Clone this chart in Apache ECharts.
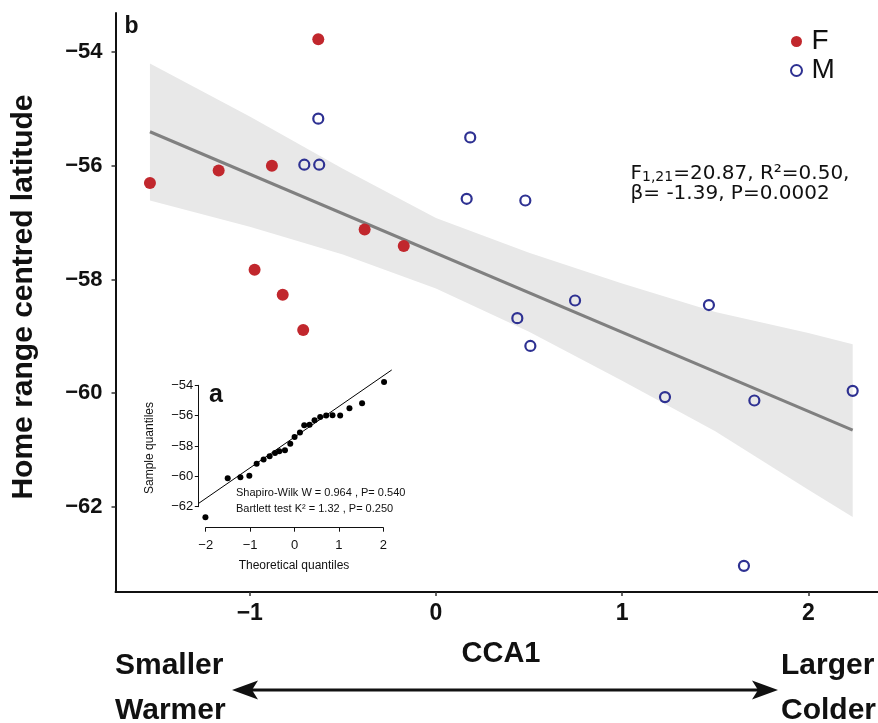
<!DOCTYPE html>
<html>
<head>
<meta charset="utf-8">
<script src="https://cdn.jsdelivr.net/npm/echarts@6/dist/echarts.min.js"></script>
<style>
html, body { margin: 0; padding: 0; background: #fff; }
#chart { width: 878px; height: 723px; }
</style>
</head>
<body>
<div id="chart"></div>
<script>
// main panel (b): home range centred latitude vs CCA1
var femaleX = [-1.536, -1.167, -0.974, -0.881, -0.823, -0.713, -0.632, -0.383, -0.173];
var femaleY = [-56.30, -56.08, -57.83, -56.00, -58.27, -58.89, -53.77, -57.12, -57.41];
var maleX = [-0.707, -0.627, -0.632, 0.165, 0.184, 0.437, 0.480, 0.507, 0.747, 1.230, 1.466, 1.654, 1.710, 2.238];
var maleY = [-55.98, -55.98, -55.17, -56.58, -55.50, -58.68, -56.61, -59.17, -58.37, -60.07, -58.45, -63.04, -60.13, -59.96];

// regression line and its confidence band
var fitX = [-1.536, 2.238];
var fitY = [-55.40, -60.65];
var bandX = [-1.536, -1.0, -0.5, 0.0, 0.5, 1.0, 1.5, 2.0, 2.238];
var bandUpper = [-54.20, -55.13, -56.05, -56.92, -57.53, -58.07, -58.57, -58.94, -59.14];
var bandLower = [-56.61, -57.07, -57.56, -58.16, -58.92, -59.78, -60.67, -61.70, -62.18];

var mainXTicks = [-1, 0, 1, 2];
var mainYTicks = [-62, -60, -58, -56, -54];

// inset (a): normal Q-Q plot
var qqTheo = [-2.016, -1.513, -1.227, -1.025, -0.860, -0.703, -0.567, -0.446, -0.349, -0.221, -0.101, -0.004,
  0.117, 0.214, 0.334, 0.447, 0.574, 0.709, 0.852, 1.025, 1.235, 1.520, 2.016];
var qqSample = [-62.70, -60.13, -60.06, -59.96, -59.17, -58.90, -58.68, -58.46, -58.35, -58.29, -57.85, -57.41,
  -57.12, -56.64, -56.60, -56.31, -56.09, -56.00, -55.98, -56.00, -55.52, -55.19, -53.78];
var qqLineX = [-2.167, 2.189];
var qqLineY = [-61.78, -52.99];

var FONT = '"Liberation Sans", Arial, sans-serif';

function pairs(xs, ys) {
  return xs.map(function (x, i) { return [x, ys[i]]; });
}
function minus(v) {
  return String(v).replace('-', '\u2212');
}

var chart = echarts.init(document.getElementById('chart'));

var option = {
  animation: false,
  backgroundColor: '#fff',
  legend: {
    data: ['F', 'M'],
    orient: 'vertical',
    left: 790,
    top: 27,
    itemWidth: 20,
    itemHeight: 11,
    itemGap: 0,
    padding: 0,
    selectedMode: false,
    textStyle: { fontFamily: FONT, fontSize: 28, lineHeight: 29, color: '#111' }
  },
  grid: [
    { left: 115.5, top: 13, right: 0, bottom: 131 },
    { left: 198.3, right: 486.8, top: 368.6, bottom: 195.3 },
    { left: 198.3, width: 20, top: 385.3, bottom: 216.3 },
    { left: 205.7, right: 494.7, height: 10, bottom: 195.3 }
  ],
  xAxis: [
    {
      type: 'value', gridIndex: 0, min: -1.721, max: 2.374,
      splitLine: { show: false },
      axisLine: { onZero: false, lineStyle: { color: '#111', width: 2 } },
      axisTick: { length: 4, customValues: mainXTicks, lineStyle: { color: '#333', width: 1.5 } },
      axisLabel: {
        customValues: mainXTicks, margin: 10, formatter: minus,
        fontFamily: FONT, fontSize: 23, fontWeight: 'bold', color: '#111'
      }
    },
    { type: 'value', gridIndex: 1, min: -2.177, max: 2.177, show: false },
    { type: 'value', gridIndex: 2, min: 0, max: 1, show: false },
    {
      type: 'value', gridIndex: 3, min: -2, max: 2, interval: 1,
      splitLine: { show: false },
      axisLine: { onZero: false, lineStyle: { color: '#111', width: 1 } },
      axisTick: { length: 4, lineStyle: { color: '#111', width: 1 } },
      axisLabel: { margin: 11, formatter: minus, fontFamily: FONT, fontSize: 13, color: '#111' }
    }
  ],
  yAxis: [
    {
      type: 'value', gridIndex: 0, min: -63.5, max: -53.31,
      splitLine: { show: false },
      axisLine: { show: true, onZero: false, lineStyle: { color: '#111', width: 2 } },
      axisTick: { show: true, length: 4, customValues: mainYTicks, lineStyle: { color: '#333', width: 1.5 } },
      axisLabel: {
        customValues: mainYTicks, margin: 13, formatter: minus,
        fontFamily: FONT, fontSize: 22, fontWeight: 'bold', color: '#111'
      }
    },
    { type: 'value', gridIndex: 1, min: -63.39, max: -52.9, show: false },
    {
      type: 'value', gridIndex: 2, min: -62, max: -54, interval: 2,
      splitLine: { show: false },
      axisLine: { show: true, onZero: false, lineStyle: { color: '#111', width: 1 } },
      axisTick: { show: true, length: 3.5, lineStyle: { color: '#111', width: 1 } },
      axisLabel: { margin: 5, formatter: minus, fontFamily: FONT, fontSize: 13, color: '#111' }
    },
    { type: 'value', gridIndex: 3, min: 0, max: 1, show: false }
  ],
  series: [
    {
      name: 'band', type: 'custom', xAxisIndex: 0, yAxisIndex: 0, silent: true, z: 1,
      data: pairs(bandX, bandUpper),
      renderItem: function (params, api) {
        if (params.dataIndex !== 0) return null;
        var pts = [];
        for (var i = 0; i < bandX.length; i++) pts.push(api.coord([bandX[i], bandUpper[i]]));
        for (var j = bandX.length - 1; j >= 0; j--) pts.push(api.coord([bandX[j], bandLower[j]]));
        return { type: 'polygon', shape: { points: pts }, style: { fill: '#e8e8e8' } };
      }
    },
    {
      name: 'fit', type: 'line', xAxisIndex: 0, yAxisIndex: 0, silent: true, z: 3,
      data: pairs(fitX, fitY), symbol: 'none',
      lineStyle: { color: '#808080', width: 3 }
    },
    {
      name: 'F', type: 'scatter', xAxisIndex: 0, yAxisIndex: 0, z: 4,
      data: pairs(femaleX, femaleY), symbol: 'circle', symbolSize: 12,
      itemStyle: { color: '#c1272d', opacity: 1 }
    },
    {
      name: 'M', type: 'scatter', xAxisIndex: 0, yAxisIndex: 0, z: 4,
      data: pairs(maleX, maleY), symbol: 'circle', symbolSize: 10,
      itemStyle: { color: 'rgba(0,0,0,0)', borderColor: '#2e3192', borderWidth: 2.2, opacity: 1 }
    },
    {
      name: 'qq', type: 'scatter', xAxisIndex: 1, yAxisIndex: 1, silent: true, z: 4,
      data: pairs(qqTheo, qqSample), symbolSize: 6,
      itemStyle: { color: '#000', opacity: 1 }
    },
    {
      name: 'qqline', type: 'line', xAxisIndex: 1, yAxisIndex: 1, silent: true, z: 3,
      data: pairs(qqLineX, qqLineY), symbol: 'none',
      lineStyle: { color: '#000', width: 1 }
    }
  ],
  graphic: [
    { type: 'text', x: 124.5, y: 27, silent: true,
      style: { text: 'b', font: 'bold 23px ' + FONT, fill: '#111', align: 'left', verticalAlign: 'middle', textAlign: 'left', textVerticalAlign: 'middle' } },
    { type: 'text', x: 209, y: 395, silent: true,
      style: { text: 'a', font: 'bold 25px ' + FONT, fill: '#111', align: 'left', verticalAlign: 'middle', textAlign: 'left', textVerticalAlign: 'middle' } },
    { type: 'text', x: 24, y: 297, rotation: Math.PI / 2, silent: true,
      style: { text: 'Home range centred latitude', font: 'bold 30px ' + FONT, fill: '#111', align: 'center', verticalAlign: 'middle', textAlign: 'center', textVerticalAlign: 'middle' } },
    { type: 'text', x: 150, y: 448, rotation: Math.PI / 2, silent: true,
      style: { text: 'Sample quantiles', font: '12px ' + FONT, fill: '#111', align: 'center', verticalAlign: 'middle', textAlign: 'center', textVerticalAlign: 'middle' } },
    { type: 'text', x: 294, y: 566, silent: true,
      style: { text: 'Theoretical quantiles', font: '12px ' + FONT, fill: '#111', align: 'center', verticalAlign: 'middle', textAlign: 'center', textVerticalAlign: 'middle' } },
    { type: 'text', x: 236, y: 493, silent: true,
      style: { text: 'Shapiro-Wilk W = 0.964 , P= 0.540', font: '11px ' + FONT, fill: '#111', align: 'left', verticalAlign: 'middle', textAlign: 'left', textVerticalAlign: 'middle' } },
    { type: 'text', x: 236, y: 508.5, silent: true,
      style: { text: 'Bartlett test K\u00b2 = 1.32 , P= 0.250', font: '11px ' + FONT, fill: '#111', align: 'left', verticalAlign: 'middle', textAlign: 'left', textVerticalAlign: 'middle' } },
    { type: 'text', x: 630.5, y: 160, silent: true,
      style: {
        text: '{m|F}{s|1,21}{m|=20.87, R\u00b2=0.50,}',
        align: 'left', verticalAlign: 'top', textAlign: 'left', textVerticalAlign: 'top',
        rich: {
          m: { fontFamily: '"DejaVu Sans", Verdana, sans-serif', fontSize: 20, lineHeight: 24, verticalAlign: 'bottom', fill: '#111', color: '#111' },
          s: { fontFamily: '"DejaVu Sans", Verdana, sans-serif', fontSize: 14, lineHeight: 14, verticalAlign: 'bottom', fill: '#111', color: '#111' }
        }
      } },
    { type: 'text', x: 630.5, y: 194, silent: true,
      style: { text: '\u03b2= -1.39, P=0.0002', font: '20px "DejaVu Sans", Verdana, sans-serif', fill: '#111', align: 'left', verticalAlign: 'middle', textAlign: 'left', textVerticalAlign: 'middle' } },
    { type: 'text', x: 501, y: 654, silent: true,
      style: { text: 'CCA1', font: 'bold 29px ' + FONT, fill: '#111', align: 'center', verticalAlign: 'middle', textAlign: 'center', textVerticalAlign: 'middle' } },
    { type: 'text', x: 115, y: 666, silent: true,
      style: { text: 'Smaller', font: 'bold 30px ' + FONT, fill: '#111', align: 'left', verticalAlign: 'middle', textAlign: 'left', textVerticalAlign: 'middle' } },
    { type: 'text', x: 115, y: 711, silent: true,
      style: { text: 'Warmer', font: 'bold 30px ' + FONT, fill: '#111', align: 'left', verticalAlign: 'middle', textAlign: 'left', textVerticalAlign: 'middle' } },
    { type: 'text', x: 781, y: 666, silent: true,
      style: { text: 'Larger', font: 'bold 30px ' + FONT, fill: '#111', align: 'left', verticalAlign: 'middle', textAlign: 'left', textVerticalAlign: 'middle' } },
    { type: 'text', x: 781, y: 711, silent: true,
      style: { text: 'Colder', font: 'bold 30px ' + FONT, fill: '#111', align: 'left', verticalAlign: 'middle', textAlign: 'left', textVerticalAlign: 'middle' } },
    { type: 'line', silent: true,
      shape: { x1: 250, y1: 690, x2: 760, y2: 690 }, style: { stroke: '#111', lineWidth: 3 } },
    { type: 'polygon', silent: true,
      shape: { points: [[232, 690], [258, 680.5], [252, 690], [258, 699.5]] }, style: { fill: '#111' } },
    { type: 'polygon', silent: true,
      shape: { points: [[778, 690], [752, 680.5], [758, 690], [752, 699.5]] }, style: { fill: '#111' } }
  ]
};

chart.setOption(option);
</script>
</body>
</html>
